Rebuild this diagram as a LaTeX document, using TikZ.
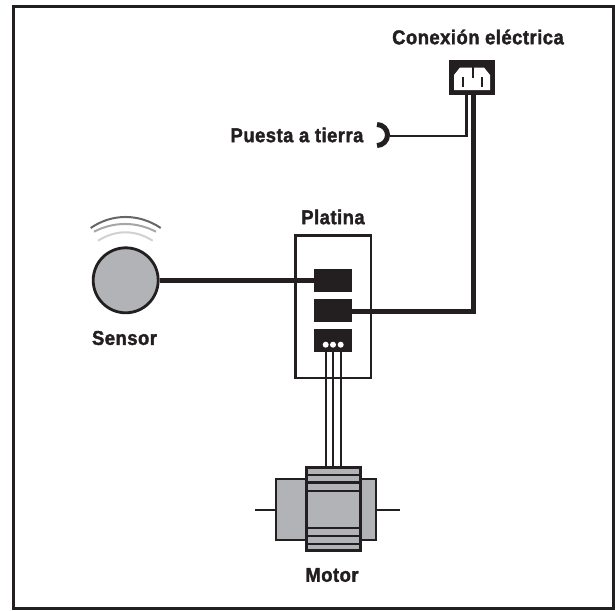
\documentclass[tikz,border=0pt]{standalone}
\usepackage{fontspec}
\newfontfamily\labf[FakeStretch=0.92,LetterSpace=2.5,BoldFeatures={FakeBold=1.8}]{Liberation Sans}
\definecolor{ink}{HTML}{231F20}
\definecolor{fillg}{HTML}{B1B3B6}
\tikzset{
 lab/.style={inner sep=0pt,font=\labf\bfseries\fontsize{20}{24}\selectfont,text=ink},
 blk/.style={fill=ink,draw=none,inner sep=0pt},
 chip/.style={blk,minimum width=38pt,minimum height=22.7pt},
 heavy/.style={draw=ink,line width=5.2pt},
 wire/.style={draw=ink,line width=2.7pt},
 gr/.style={fill=fillg,draw=ink,line width=2.8pt}
}
\begin{document}
\begin{tikzpicture}[x=1pt,y=-1pt]
\useasboundingbox (0,0) rectangle (615,610);
\fill[white] (0,0) rectangle (615,610);
\draw[ink,line width=3pt] (13.5,6.5) rectangle (613.5,608.5);
\node[lab] (lc) at (478,37) {Conexión eléctrica};
\node[lab] (lp) at (297,135) {Puesta a tierra};
\node[lab] (lpl) at (333,217) {Platina};
\node[lab] (ls) at (124.5,338) {Sensor};
\node[lab] (lm) at (332,575) {Motor};
% plug
\node[blk,minimum width=46pt,minimum height=35pt] (plug) at (472,77.5) {};
\fill[white] (454,90) -- (454,75) -- (460,67.5) -- (484,67.5) -- (490,75) -- (490,90) -- cycle;
\draw[ink,line width=1.8pt] (472.7,67) -- (472.7,78) (463,77) -- (463,87) (482,77) -- (482,87);
% wires from plug
\coordinate (g1) at (466,135.7);
\coordinate (g2) at (390,135.7);
\draw[ink,line width=3pt] (466,95) -- (466,137);
\draw[ink,line width=2pt] (g1) -- (g2);
% ground
\draw[ink,line width=5pt] (377,124.5) arc[start angle=-90,end angle=90,radius=10.5];
% platina
\node[draw=ink,line width=2.5pt,minimum width=75.5pt,minimum height=142.5pt,inner sep=0pt] (pl) at (333,306.5) {};
\node[chip] (b1) at (333,280.3) {};
\node[chip] (b2) at (333,310.3) {};
\node[chip] (b3) at (333,340.3) {};
\foreach \x in {325.7,333,340.7} \fill[white] (\x,344.7) circle (3);
\foreach \x in {326,333,341} \draw[wire] (\x,351.7) -- (\x,468);
% sensor
\node[circle,gr,minimum size=65pt,inner sep=0pt] (sens) at (125.7,280.3) {};
\draw[heavy] (sens.east) -- (b1.west);
\draw[heavy] (b2.east |- 0,311.7) -- (473.3,311.7) -- (473.3,95);
\draw[color=black!60,line width=2pt] (90.7,228) .. controls (112,213.3) and (139,213.3) .. (160.7,228);
\draw[color=black!35,line width=2pt] (94,231.7) .. controls (114,221.4) and (136,221.4) .. (156,231.7);
\draw[color=black!18,line width=2pt] (98,240.7) .. controls (116,229.5) and (135,229.5) .. (152.7,240.7);
% motor
\draw[ink,line width=2.6pt] (255,510) -- (276,510) (376,510) -- (400,510);
\draw[gr] (276,479) rectangle (376,540);
\draw[gr] (306.7,467.7) rectangle (360.7,550.7);
\foreach \y in {475,482.7,491,528,536,544}{\draw[ink,line width=2.8pt] (306.7,\y) -- (360.7,\y);}
\end{tikzpicture}
\end{document}
